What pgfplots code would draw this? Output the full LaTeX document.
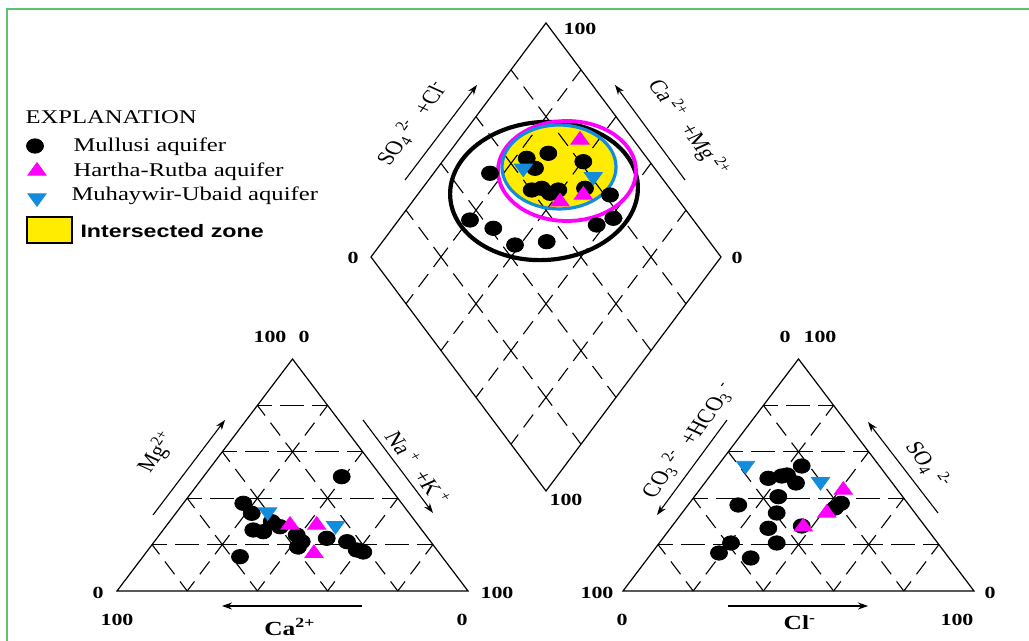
\documentclass[border=0pt]{standalone}
\usepackage{pgfplots}
\pgfplotsset{compat=1.18}
\usepackage{fontspec}
\setmainfont{Liberation Serif}
\newfontfamily\arialfont{Liberation Sans}
\usetikzlibrary{calc,arrows.meta}

\definecolor{hmag}{RGB}{255,0,255}
\definecolor{mblue}{RGB}{20,140,220}
\definecolor{zoneyellow}{RGB}{255,236,0}
\definecolor{framegreen}{RGB}{90,195,110}

\tikzset{
  hgrid/.style={line width=0.55pt, dash pattern=on 15pt off 4pt on 12pt off 4pt, dash phase=7.5pt},
  dgrid/.style={line width=0.55pt, dash pattern=on 12pt off 4.5pt on 8pt off 4.5pt, dash phase=6pt},
  edge/.style={line width=0.6pt},
  lab/.style={xscale=1.27, inner sep=0pt, font=\fontsize{9.7}{12}\selectfont},
  rlab/.style={lab, rotate=#1},
  num/.style={xscale=1.29, inner sep=0pt, font=\fontsize{8.5}{10}\selectfont\bfseries},
  arr/.style={line width=0.55pt, -{Stealth[length=5pt,width=3.5pt]}},
}

% ternary triangle with 20 % grid: corners #1 (left), #2 (right), #3 (apex)
\newcommand{\ternarygrid}[3]{%
  \foreach \t in {0.2,0.4,0.6,0.8}{%
    \draw[hgrid] ($#1!\t!#3$) -- ($#2!\t!#3$);
    \draw[dgrid] ($#1!\t!#2$) -- ($#3!\t!#2$);
    \draw[dgrid] ($#1!\t!#2$) -- ($#1!\t!#3$);
  }%
  \draw[edge] #1 -- #2 -- #3 -- cycle;
}

\begin{document}
\begin{tikzpicture}
\useasboundingbox (0,0) rectangle (514.5pt,320.5pt);

\begin{scope}[x=0.5pt, y=-0.5pt, yshift=320.5pt]
  % frame
  \draw[framegreen, line width=1.1pt] (7,641) -- (7,9) -- (1029,9);

  % intersected zone
  \fill[zoneyellow] (559,167) ellipse [x radius=57, y radius=42];

  % central diamond
  \coordinate (T) at (546,23);
  \coordinate (L) at (371,257);
  \coordinate (R) at (721,257);
  \coordinate (B) at (546,491);
  \foreach \t in {0.2,0.4,0.6,0.8}{%
    \draw[dgrid] ($(L)!\t!(B)$) -- ($(T)!\t!(R)$);
    \draw[dgrid] ($(L)!\t!(T)$) -- ($(B)!\t!(R)$);
  }
  \draw[edge] (T) -- (R) -- (B) -- (L) -- cycle;

  % cation and anion triangles
  \ternarygrid{(117,591)}{(468,591)}{(292.5,359)}
  \ternarygrid{(623,591)}{(974,591)}{(798.5,359)}

  % aquifer envelopes
  \draw[black, line width=2.1pt, rotate around={4:(544,191)}] (544,191) ellipse [x radius=94, y radius=69];
  \draw[hmag, line width=1.9pt] (567,171) ellipse [x radius=69, y radius=50];
  \draw[mblue, line width=1.6pt] (559,167) ellipse [x radius=57, y radius=42];

  % diamond labels
  \node[num] at (580,29) {100};
  \node[num] at (353,258) {0};
  \node[num] at (737,258) {0};
  \node[num] at (566,500) {100};
  \node[rlab=60] at (412,123) {SO\textsubscript{4}\,\textsuperscript{2-}\; +Cl\textsuperscript{-}};
  \draw[arr] (405,180) -- (477,85);
  \node[rlab=-60] at (688,128) {Ca\,\textsuperscript{2+}\; +Mg\,\textsuperscript{2+}};
  \draw[arr] (685,180) -- (615,85);

  % cation triangle labels
  \node[num] at (270,337) {100};
  \node[num] at (304,337) {0};
  \node[num] at (98,593) {0};
  \node[num] at (497,593) {100};
  \node[num] at (117,620) {100};
  \node[num] at (462,620) {0};
  \node[lab, font=\fontsize{10}{12}\selectfont\bfseries] at (290,627) {Ca\textsuperscript{2+}};
  \draw[arr] (362,606) -- (222,606);
  \node[rlab=60] at (157,452) {Mg\textsuperscript{2+}};
  \draw[arr] (153,515) -- (225,420);
  \node[rlab=-60] at (418,468) {Na\,\textsuperscript{+}\; +K\,\textsuperscript{+}};
  \draw[arr] (363,420) -- (433,513);

  % anion triangle labels
  \node[num] at (785,337) {0};
  \node[num] at (820,337) {100};
  \node[num] at (597,593) {100};
  \node[num] at (990,593) {0};
  \node[num] at (622,620) {0};
  \node[num] at (957,620) {100};
  \node[lab, font=\fontsize{10}{12}\selectfont\bfseries] at (800,623) {Cl\textsuperscript{-}};
  \draw[arr] (728,606) -- (868,606);
  \node[rlab=60] at (688,440) {CO\textsubscript{3}\,\textsuperscript{2-}\; +HCO\textsubscript{3}\,\textsuperscript{-}};
  \draw[arr] (727,420) -- (657,515);
  \node[rlab=-60] at (928,465) {SO\textsubscript{4}\;\textsuperscript{2-}};
  \draw[arr] (938,513) -- (868,422);

  % explanation
  \node[lab, anchor=west] at (25,117) {EXPLANATION};
  \node[lab, anchor=west] at (73,147) {Mullusi aquifer};
  \node[lab, anchor=west] at (73,172) {Hartha-Rutba aquifer};
  \node[lab, anchor=west] at (71,196) {Muhaywir-Ubaid aquifer};
  \draw[fill=zoneyellow, line width=1pt] (27,217) rectangle (72,243);
  \node[xscale=1.29, inner sep=0pt, anchor=west, font=\arialfont\bfseries\fontsize{9}{11}\selectfont] at (80,231) {Intersected zone};
\end{scope}

\begin{axis}[
  scale only axis, width=514.5pt, height=320.5pt,
  xmin=0, xmax=1029, ymin=0, ymax=641, y dir=reverse,
  axis lines=none, clip=false,
]
% Mullusi aquifer
\addplot[only marks, mark=*, mark size=3.6pt, mark options={black, xscale=1.18}] coordinates {
  % cations
  (341.7,476.7) (243.3,503.3) (251.7,513.3) (253.3,530) (263.3,531.7) (271.7,521.7)
  (280,526.7) (296.7,535) (301.7,541.7) (298,547) (326.7,538.3) (347,541.7)
  (356.7,550) (363.3,552) (240,556.7)
  % anions
  (801.7,466) (768.3,478.3) (781.7,476) (787,475) (796,483) (778.3,496.7)
  (738.3,505) (841,503.3) (835,508) (776.7,513) (768.3,528.3) (801.7,526)
  (776.7,543) (731,543) (719,553) (750.7,558)
  % diamond
  (548.3,153.3) (526.7,158.3) (535,168.3) (583.3,161.7) (490,173.3) (531.7,190)
  (541.7,188.3) (550,193.3) (558.3,190) (585,188.3) (610,195) (470,220)
  (493.3,228.3) (515,245) (546.7,241.7) (596.7,225) (613.3,218.3)
  % key
  (35,146)
};
% Hartha-Rutba aquifer
\addplot[only marks, mark=triangle*, mark size=4.2pt, mark options={hmag, xscale=1.25}] coordinates {
  (290,525) (316.7,525) (314,553.3)
  (843.3,490) (826.7,513) (803.3,526.7)
  (580,140) (583.3,195) (560,201.7)
  (37,171)
};
% Muhaywir-Ubaid aquifer
\addplot[only marks, mark=triangle*, mark size=4.2pt, mark options={mblue, xscale=1.25, rotate=180}] coordinates {
  (267.7,512) (335.5,525.7)
  (745.5,465.5) (820.5,481.7)
  (523.3,168.3) (593.3,176.7)
  (37,198)
};
\end{axis}
\end{tikzpicture}
\end{document}
